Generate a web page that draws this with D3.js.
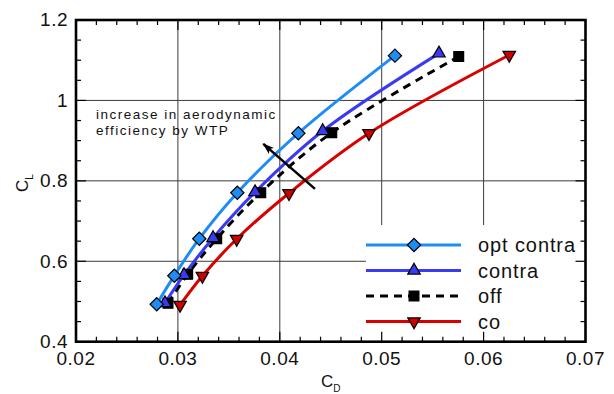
<!DOCTYPE html>
<html>
<head>
<meta charset="utf-8">
<script src="https://cdn.jsdelivr.net/npm/d3@7"></script>
<style>
  html, body { margin: 0; padding: 0; background: #fff; }
  svg { display: block; }
</style>
</head>
<body>
<script>
// Lift vs. drag polars for four propeller configurations
const seriesNames = ["opt contra", "contra", "off", "co"];
const cdOptContra = [0.02792, 0.02965, 0.03210, 0.03583, 0.04182, 0.05130];
const clOptContra = [0.4930, 0.5642, 0.6562, 0.7706, 0.9184, 1.1114];
const cdContra    = [0.02873, 0.03060, 0.03345, 0.03757, 0.04421, 0.05562];
const clContra    = [0.4960, 0.5660, 0.6580, 0.7720, 0.9240, 1.1170];
const cdOff       = [0.02903, 0.03096, 0.03381, 0.03813, 0.04510, 0.05756];
const clOff       = [0.4955, 0.5677, 0.6562, 0.7706, 0.9199, 1.1090];
const cdCo        = [0.03021, 0.03240, 0.03577, 0.04090, 0.04875, 0.06252];
const clCo        = [0.4913, 0.5634, 0.6555, 0.7692, 0.9184, 1.1130];

const xTicks = [0.02, 0.03, 0.04, 0.05, 0.06, 0.07];
const xTickLabels = ["0.02", "0.03", "0.04", "0.05", "0.06", "0.07"];
const yTicks = [0.4, 0.6, 0.8, 1.0, 1.2];
const yTickLabels = ["0.4", "0.6", "0.8", "1", "1.2"];

const annotationLines = ["increase in aerodynamic", "efficiency by WTP"];
// arrow from tail to tip, in (CD, CL)
const arrowTail = [0.04345, 0.7800];
const arrowTip  = [0.03838, 0.8920];

const W = 614, H = 394;
const plot = { left: 76, right: 585.5, top: 20, bottom: 341.7 };

const svg = d3.select("body").append("svg")
  .attr("width", W).attr("height", H);

const x = d3.scaleLinear().domain([0.02, 0.07]).range([plot.left, plot.right]);
const y = d3.scaleLinear().domain([0.4, 1.2]).range([plot.bottom, plot.top]);

const styles = {
  "opt contra": { color: "#1e8cf5", fill: "#1e8cf5", marker: "diamond", dash: null },
  "contra":     { color: "#3a3af2", fill: "#3a3af2", marker: "up",      dash: null },
  "off":        { color: "#000000", fill: "#000000", marker: "square",  dash: "8,6" },
  "co":         { color: "#d90000", fill: "#cc0000", marker: "down",    dash: null }
};
const seriesData = {
  "opt contra": d3.zip(cdOptContra, clOptContra),
  "contra":     d3.zip(cdContra, clContra),
  "off":        d3.zip(cdOff, clOff),
  "co":         d3.zip(cdCo, clCo)
};

// grid lines
const grid = svg.append("g").attr("stroke", "#3a3a3a").attr("stroke-width", 1);
grid.selectAll("line.vx").data(xTicks.slice(1, -1)).join("line")
  .attr("x1", d => x(d)).attr("x2", d => x(d))
  .attr("y1", plot.top).attr("y2", plot.bottom);
grid.selectAll("line.hy").data(yTicks.slice(1, -1)).join("line")
  .attr("x1", plot.left).attr("x2", plot.right)
  .attr("y1", d => y(d)).attr("y2", d => y(d));

// series lines
const line = d3.line()
  .x(d => x(d[0])).y(d => y(d[1]))
  .curve(d3.curveCatmullRom.alpha(0.5));

const drawOrder = ["co", "off", "contra", "opt contra"];
drawOrder.forEach(name => {
  const s = styles[name];
  svg.append("path")
    .datum(seriesData[name])
    .attr("d", line)
    .attr("fill", "none")
    .attr("stroke", s.color)
    .attr("stroke-width", 3)
    .attr("stroke-dasharray", s.dash);
});

function markerPath(kind) {
  if (kind === "diamond") return d3.symbol(d3.symbolSquare, 88)();
  if (kind === "square") return d3.symbol(d3.symbolSquare, 96)();
  return d3.symbol(d3.symbolTriangle, 68)();
}
function markerRotate(kind) {
  if (kind === "diamond") return 45;
  if (kind === "down") return 180;
  return 0;
}
function drawMarker(g, kind, fill, cx, cy) {
  g.append("path")
    .attr("d", markerPath(kind))
    .attr("transform", `translate(${cx},${cy}) rotate(${markerRotate(kind)})`)
    .attr("fill", fill)
    .attr("stroke", "#000")
    .attr("stroke-width", 1.2);
}

drawOrder.forEach(name => {
  const s = styles[name];
  const g = svg.append("g");
  seriesData[name].forEach(d => drawMarker(g, s.marker, s.fill, x(d[0]), y(d[1])));
});

// arrow annotation
const defs = svg.append("defs");
defs.append("marker")
  .attr("id", "arrowHead")
  .attr("viewBox", "0 0 12 8")
  .attr("refX", 11).attr("refY", 4)
  .attr("markerWidth", 12).attr("markerHeight", 8)
  .attr("markerUnits", "userSpaceOnUse")
  .attr("orient", "auto")
  .append("path")
  .attr("d", "M0,0 L12,4 L0,8 L3,4 Z")
  .attr("fill", "#000");

svg.append("line")
  .attr("x1", x(arrowTail[0])).attr("y1", y(arrowTail[1]))
  .attr("x2", x(arrowTip[0])).attr("y2", y(arrowTip[1]))
  .attr("stroke", "#000").attr("stroke-width", 2.5)
  .attr("marker-end", "url(#arrowHead)");

svg.append("g").selectAll("text").data(annotationLines).join("text")
  .attr("x", 96).attr("y", (d, i) => 119 + i * 16)
  .attr("font-family", "'Liberation Sans', Arial, sans-serif")
  .attr("font-size", 13.5)
  .attr("letter-spacing", 1.5)
  .attr("fill", "#111")
  .text(d => d);

// legend
const legend = svg.append("g");
legend.append("rect")
  .attr("x", 366).attr("y", 225).attr("width", plot.right - 366).attr("height", plot.bottom - 225)
  .attr("fill", "#fff");
seriesNames.forEach((name, i) => {
  const s = styles[name];
  const ly = 245 + i * 25.5;
  legend.append("line")
    .attr("x1", 366).attr("x2", 461).attr("y1", ly).attr("y2", ly)
    .attr("stroke", s.color).attr("stroke-width", 3)
    .attr("stroke-dasharray", s.dash);
  drawMarker(legend, s.marker, s.fill, 414, ly);
  legend.append("text")
    .attr("x", 478).attr("y", ly)
    .attr("dy", "0.35em")
    .attr("font-family", "'Liberation Sans', Arial, sans-serif")
    .attr("font-size", 20)
    .attr("letter-spacing", 0.9)
    .attr("fill", "#111")
    .text(name);
});

// ticks: major and minor, pointing inward on all four sides
const xMinor = d3.range(0, 26).map(i => 0.02 + i * 0.002);
const yMinor = d3.range(0, 17).map(i => 0.4 + i * 0.05);
const tickG = svg.append("g").attr("stroke", "#000").attr("stroke-width", 1.2);
function isMajor(v, list) { return list.some(t => Math.abs(t - v) < 1e-9); }
xMinor.forEach(v => {
  const len = isMajor(v, xTicks) ? 10 : 5;
  tickG.append("line").attr("x1", x(v)).attr("x2", x(v)).attr("y1", plot.bottom).attr("y2", plot.bottom - len);
  tickG.append("line").attr("x1", x(v)).attr("x2", x(v)).attr("y1", plot.top).attr("y2", plot.top + len);
});
yMinor.forEach(v => {
  const len = isMajor(v, yTicks) ? 10 : 5;
  tickG.append("line").attr("x1", plot.left).attr("x2", plot.left + len).attr("y1", y(v)).attr("y2", y(v));
  tickG.append("line").attr("x1", plot.right).attr("x2", plot.right - len).attr("y1", y(v)).attr("y2", y(v));
});

// frame
svg.append("rect")
  .attr("x", plot.left).attr("y", plot.top)
  .attr("width", plot.right - plot.left).attr("height", plot.bottom - plot.top)
  .attr("fill", "none").attr("stroke", "#000").attr("stroke-width", 2.6);

// tick labels
const labelFont = "'Liberation Sans', Arial, sans-serif";
svg.append("g").selectAll("text").data(xTicks).join("text")
  .attr("x", d => x(d)).attr("y", 364.5)
  .attr("text-anchor", "middle")
  .attr("font-family", labelFont).attr("font-size", 19)
  .attr("letter-spacing", 0.5)
  .attr("fill", "#111")
  .text((d, i) => xTickLabels[i]);
svg.append("g").selectAll("text").data(yTicks).join("text")
  .attr("x", 68).attr("y", d => y(d))
  .attr("dy", "0.34em")
  .attr("text-anchor", "end")
  .attr("font-family", labelFont).attr("font-size", 19)
  .attr("letter-spacing", 0.5)
  .attr("fill", "#111")
  .text((d, i) => yTickLabels[i]);

// axis titles
const xt = svg.append("text")
  .attr("x", 321).attr("y", 387)
  .attr("font-family", labelFont).attr("font-size", 17).attr("fill", "#111");
xt.append("tspan").text("C");
xt.append("tspan").attr("dy", 5).attr("font-size", 10).text("D");

const yt = svg.append("text")
  .attr("transform", "translate(28,192) rotate(-90)")
  .attr("font-family", labelFont).attr("font-size", 17).attr("fill", "#111");
yt.append("tspan").text("C");
yt.append("tspan").attr("dy", 5).attr("font-size", 10).text("L");
</script>
</body>
</html>
